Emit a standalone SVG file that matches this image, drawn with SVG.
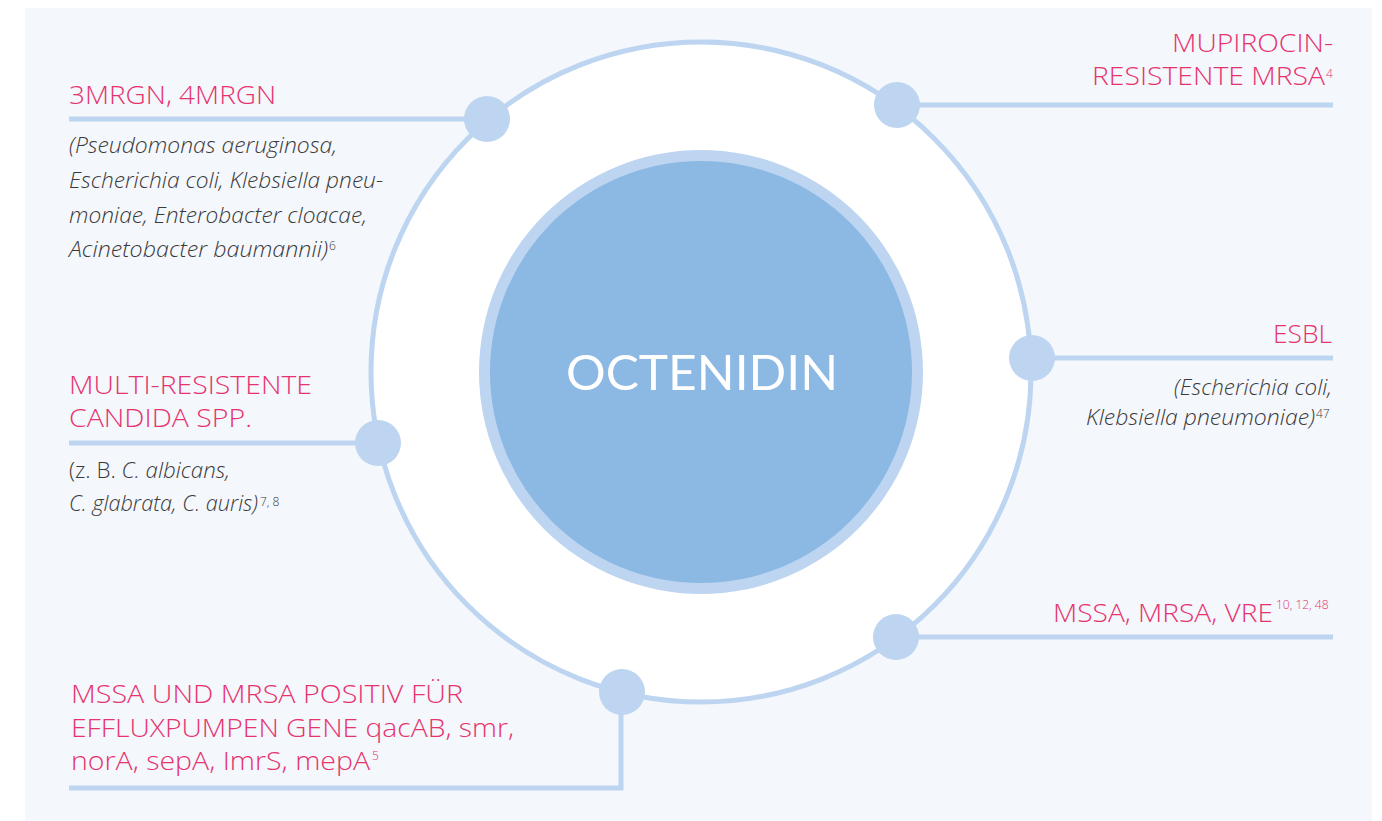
<svg xmlns="http://www.w3.org/2000/svg" width="1382" height="821" viewBox="0 0 1382 821">
<style>
.h{font-family:"Open Sans","Liberation Sans",sans-serif;font-weight:300;fill:#e6336e;font-size:26px}
.hb{font-family:"Open Sans","Liberation Sans",sans-serif;font-weight:300;fill:#e6336e;font-size:26px}
.i{font-family:"Open Sans","Liberation Sans",sans-serif;font-weight:300;font-style:italic;fill:#3a3a3a;font-size:22px}
.up{font-style:normal}
.sp{font-family:"Open Sans","Liberation Sans",sans-serif;font-weight:300;font-size:12px}
.spp{fill:#e6336e}
.spg{fill:#3a3a3a}
.ln{stroke:#bdd5f0;stroke-width:5;fill:none}
.nd{fill:#bdd5f0}
</style>
<rect x="0" y="0" width="1382" height="821" fill="#ffffff"/>
<rect x="25" y="8" width="1347" height="813" fill="#f4f7fc"/>
<circle cx="701" cy="372" r="330" fill="#ffffff" stroke="#bdd5f0" stroke-width="5"/>
<g id="connectors">
<line class="ln" x1="69" y1="119" x2="487" y2="119"/>
<line class="ln" x1="897" y1="105" x2="1333" y2="105"/>
<line class="ln" x1="1032" y1="358" x2="1333" y2="358"/>
<line class="ln" x1="69" y1="443" x2="378" y2="443"/>
<line class="ln" x1="896" y1="637" x2="1333" y2="637"/>
<polyline class="ln" points="621,692 621,788 69,788"/>
</g>
<g id="center">
<circle cx="701" cy="372" r="222" fill="#bdd5f0"/>
<circle cx="701" cy="372" r="211" fill="#8cb8e4"/>
<text x="702" y="390" text-anchor="middle" font-family="Lato,'Open Sans','Liberation Sans',sans-serif" font-size="48" fill="#ffffff" textLength="272" lengthAdjust="spacingAndGlyphs">OCTENIDIN</text>
</g>
<g id="n-mrgn">
<circle class="nd" cx="487" cy="119" r="23"/>
<text class="h" x="69" y="104" textLength="207" lengthAdjust="spacingAndGlyphs">3MRGN, 4MRGN</text>
<text class="i" x="69" y="153" textLength="268" lengthAdjust="spacingAndGlyphs">(Pseudomonas aeruginosa,</text>
<text class="i" x="69" y="188" textLength="314" lengthAdjust="spacingAndGlyphs">Escherichia coli, Klebsiella pneu-</text>
<text class="i" x="69" y="223" textLength="298" lengthAdjust="spacingAndGlyphs">moniae, Enterobacter cloacae,</text>
<text class="i" x="69" y="257" textLength="259" lengthAdjust="spacingAndGlyphs">Acinetobacter baumannii)</text>
<text class="sp spg" x="329" y="250">6</text>
</g>
<g id="n-mupirocin">
<circle class="nd" cx="897" cy="105" r="23"/>
<text class="h" x="1333" y="52" text-anchor="end" textLength="161" lengthAdjust="spacingAndGlyphs">MUPIROCIN-</text>
<text class="h" x="1092" y="85" textLength="233" lengthAdjust="spacingAndGlyphs">RESISTENTE MRSA</text>
<text class="sp spp" x="1326" y="78" font-size="12">4</text>
</g>
<g id="n-esbl">
<circle class="nd" cx="1032" cy="358" r="23"/>
<text class="h" x="1332" y="343" text-anchor="end" textLength="59" lengthAdjust="spacingAndGlyphs">ESBL</text>
<text class="i" x="1332" y="395" text-anchor="end" textLength="158" lengthAdjust="spacingAndGlyphs">(Escherichia coli,</text>
<text class="i" x="1086" y="425" textLength="229" lengthAdjust="spacingAndGlyphs">Klebsiella  pneumoniae)</text>
<text class="sp spg" x="1316" y="418">47</text>
</g>
<g id="n-candida">
<circle class="nd" cx="378" cy="443" r="23"/>
<text class="h" x="69" y="394" textLength="243" lengthAdjust="spacingAndGlyphs">MULTI-RESISTENTE</text>
<text class="h" x="69" y="427" textLength="183" lengthAdjust="spacingAndGlyphs">CANDIDA SPP.</text>
<text class="i" x="69" y="478" textLength="161" lengthAdjust="spacingAndGlyphs"><tspan class="up">(z. B. </tspan>C. albicans,</text>
<text class="i" x="69" y="511" textLength="189" lengthAdjust="spacingAndGlyphs">C. glabrata, C. auris)</text>
<text class="sp spg" x="260" y="506" font-size="11">7, 8</text>
</g>
<g id="n-mssa">
<circle class="nd" cx="896" cy="637" r="23"/>
<text class="h" x="1053" y="622" textLength="220" lengthAdjust="spacingAndGlyphs">MSSA, MRSA, VRE</text>
<text class="sp spp" x="1276" y="609">10, 12, 48</text>
</g>
<g id="n-efflux">
<circle class="nd" cx="622" cy="692" r="23"/>
<text class="hb" x="71" y="703" textLength="392" lengthAdjust="spacingAndGlyphs">MSSA UND MRSA POSITIV FÜR</text>
<text class="hb" x="71" y="737" textLength="443" lengthAdjust="spacingAndGlyphs">EFFLUXPUMPEN GENE qacAB, smr,</text>
<text class="hb" x="71" y="770" textLength="299" lengthAdjust="spacingAndGlyphs">norA, sepA, ImrS, mepA</text>
<text class="sp spp" x="372" y="760" font-size="11">5</text>
</g>
</svg>
